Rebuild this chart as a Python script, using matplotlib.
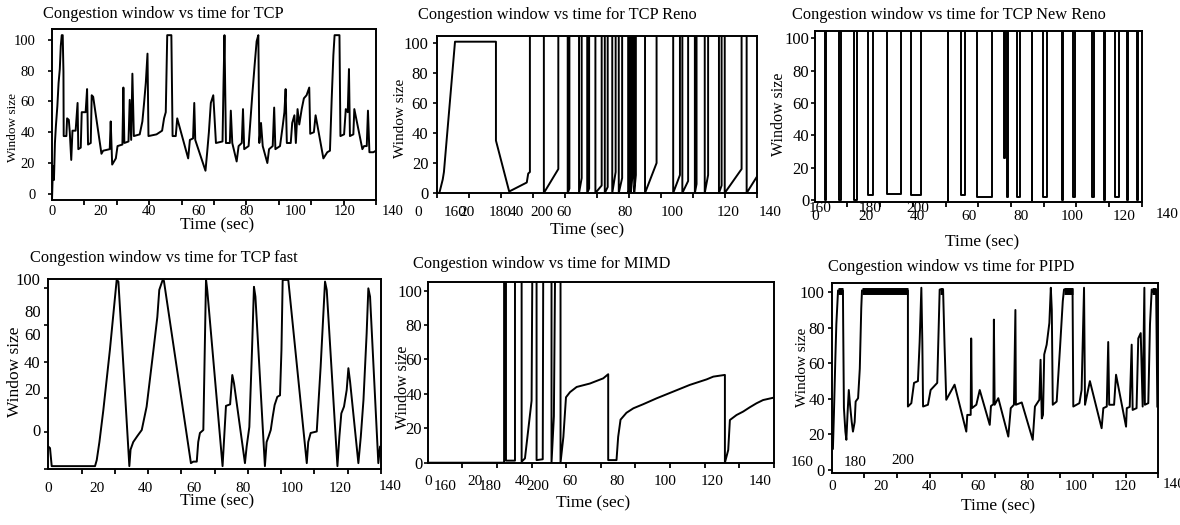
import numpy as np
import matplotlib
matplotlib.use("Agg")
import matplotlib.pyplot as plt

W, H = 1180, 525
plt.rcParams['font.family'] = ['Liberation Serif', 'DejaVu Serif']

# ---------------- data ----------------
# Panel 1: TCP
tcp_x = [0, 0.4, 0.8, 1.2, 1.6, 2.2, 2.7, 3.2, 3.6, 4.0,
         4.4, 4.7, 4.8, 5.9, 6.2, 6.9, 7.3, 7.9, 8.4, 9.7,
         10.3, 10.5, 10.8, 11.8, 12.2, 13.8, 14.4, 14.8, 15.9, 16.3,
         16.9, 20.3, 21.0, 23.7, 24.1, 24.7, 26.2, 26.9, 28.9, 29.3,
         29.7, 31.4, 31.9, 32.5, 33.0, 33.6, 36.0, 37.1, 37.8, 38.5,
         39.2, 39.6, 42.9, 45.2, 46.0, 46.7, 47.3, 49.0, 49.5, 50.8,
         51.4, 55.9, 56.6, 57.9, 58.4, 58.8, 63.0, 63.7, 64.4, 65.2,
         66.2, 66.9, 67.3, 70.0, 70.4, 70.8, 71.4, 73.0, 73.4, 74.0,
         75.8, 76.6, 77.9, 78.4, 78.9, 80.7, 82.2, 83.2, 84.0, 84.7,
         85.1, 85.8, 86.5, 88.4, 89.1, 90.6, 91.2, 91.7, 93.6, 94.7,
         95.4, 95.9, 96.4, 98.0, 98.6, 99.5, 100.1, 100.8, 101.5, 102.5,
         103.4, 104.5, 105.6, 106.0, 107.5, 108.2, 111.4, 113.0, 114.1, 114.8,
         115.5, 116.0, 118.0, 118.4, 119.9, 120.6, 121.4, 121.9, 122.3, 123.7,
         124.1, 127.4, 128.1, 129.2, 129.7, 130.3, 131.9, 133.0]
tcp_y = [-4, 18, 9, 33, 44, 57, 72, 81, 96, 103,
         103, 79, 37.5, 37.5, 49, 48, 40, 22, 41, 41,
         54, 59, 29, 30, 53, 53, 68, 32, 33, 64,
         63, 26, 28, 29, 47, 19, 23, 31, 32, 69,
         33, 34, 61, 35, 78, 37.5, 38.6, 47, 59, 72,
         91, 37.5, 38.6, 41, 49, 53, 103, 103, 37.5, 37.5,
         49, 23, 35, 36, 59, 35, 15, 27, 40, 59,
         64, 44, 33, 34, 71, 103, 33, 33, 54, 33,
         21, 31, 33, 55, 29, 31, 64, 84, 99, 103,
         33, 46, 31, 20, 29, 31, 56, 29, 31, 44,
         53, 68, 33, 33, 46, 51, 33, 55, 45, 55,
         62, 64, 69, 39, 40, 51, 23, 27, 28, 61,
         90, 103, 103, 37.5, 38.6, 55, 53, 81, 37.5, 38.6,
         55, 29, 31, 31, 54, 27, 27, 28]

# Panel 2: TCP Reno (values above 105 are off the top of the plot)
reno_head_x = [1.1, 2.5, 3.0, 7.6, 24.6, 24.6, 30.1, 37.4, 38.0, 38.7, 38.7]
reno_head_y = [0, 9, 14, 101, 101, 35, 1, 7, 13, 14, 110]
reno_drop_x = [44.5, 54.4, 59.1, 62.5, 65.9, 69.8, 72.9, 75.6, 79.5, 80.6,
               82.0, 86.5, 98.2, 102.0, 107.2, 111.3, 117.2, 119.6, 128.7]
reno_rise_x = [50.5, 55.1, 60.2, 63.3, 68.5, 71.0, 74.3, 77.0, 80.2, 81.2,
               82.7, 91.3, 101.0, 104.4, 107.9, 112.7, 118.3, 126.6, 133.0]
reno_rise_y = [16, 3, 10, 3, 5, 4, 14, 10, 3, 10,
               12, 20, 12, 8, 6, 12, 5, 16, 11]

# Panel 3: TCP New Reno
nreno_drop_x = [4.0, 9.6, 15.1, 20.6, 28.1, 37.5, 51.8, 56.9, 62.9, 73.7, 74.6,
                78.5, 84.3, 88.8, 96.0, 100.5, 107.7, 112.2, 116.7, 121.3, 125.2]
nreno_rise_x = [4.3, 10.2, 16.3, 22.8, 33.6, 41.4, 51.9, 58.2, 68.8, 73.9, 75.2,
                79.8, 84.5, 90.2, 96.6, 101.2, 108.3, 112.8, 118.0, 121.5, 125.4]
nreno_floor_y = [0, 0, 0, 3, 4, 3, 0, 3, 2, 26, 2,
                 2, 0, 2, 0, 2, 2, 0, 2, 0, 0]

# Panel 4: TCP fast
fast_x = [0, 0.7, 1.4, 19.2, 19.9, 21.0, 22.6, 25.3, 27.4, 28.1,
          28.8, 33.3, 33.8, 34.9, 36.6, 38.4, 40.4, 43.2, 44.8, 45.6,
          47.0, 47.5, 58.6, 59.6, 61.0, 61.6, 62.3, 63.7, 64.8, 65.3,
          71.6, 73.0, 74.7, 75.6, 76.3, 80.8, 81.5, 82.6, 83.7, 84.5,
          85.1, 89.0, 89.7, 90.5, 91.4, 92.2, 93.0, 94.1, 95.2, 95.8,
          96.3, 98.6, 106.2, 106.8, 107.8, 110.3, 111.9, 113.7, 114.4, 118.8,
          119.6, 120.4, 121.5, 122.6, 123.3, 124.0, 127.4, 128.4, 129.5, 130.8,
          131.5, 132.2, 135.6, 136.3, 136.7]
fast_y = [-11, -12, -24, -24, -20, -8, 13, 53, 88, 99.6,
          98.5, -24, -13, -8, -4, 0, 15.5, 53, 75, 93,
          99.6, 99, -22, -21, -21, -8, -2, 0, 100, 93,
          -24, 16, 17, 36.5, 31, -22, -11, 2, 53, 95,
          88.5, -24, -8, -4.4, 0, 8.8, 16.6, 22, 23, 53,
          99.6, 99.6, -22, -8, -2, -1, 42, 98.5, 93, -24,
          -4.4, 11, 15.5, 26.5, 41, 32, -22, -4.4, 20, 64,
          94, 88.5, -22, -11, -11]

# Panel 5: MIMD
mimd_x = [0, 32.2, 32.2, 33.0, 33.0, 36.8, 36.8, 39.6, 39.6, 41.0,
          43.8, 44.1, 45.9, 45.9, 48.5, 48.7, 52.2, 52.2, 53.2, 53.7,
          56.0, 56.0, 57.2, 58.3, 60.0, 62.8, 65.6, 68.4, 71.2, 74.0,
          76.1, 76.1, 79.6, 80.3, 81.3, 83.8, 86.7, 90.9, 96.5, 103.5,
          110.5, 117.6, 120.4, 125.3, 125.3, 126.7, 127.4, 130.2, 133.0, 135.8,
          138.6, 141.4, 145.9]
mimd_y = [0, 0, 110, 110, 1.2, 1.2, 110, 110, 0.6, 2.5,
          36, 110, 110, 1.5, 2, 110, 110, 0, 27, 110,
          110, 0, 15, 38, 41, 44, 45, 46, 47.5, 49,
          51.4, 1.5, 1.5, 15, 25, 29, 31.6, 34, 37.4, 41.3,
          45.2, 48.4, 50, 51, 0, 7.4, 24.8, 27.7, 29.7, 32.2,
          34.5, 36.4, 37.8]

# Panel 6: PIPD
pipd_x = [0.5, 0.9, 1.5, 1.9, 2.6, 4.6, 4.7, 5.0, 5.6, 6.0,
          6.5, 7.0, 7.5, 8.2, 8.7, 9.4, 9.8, 10.8, 11.5, 12.1,
          12.4, 31.2, 31.2, 32.6, 33.7, 35.3, 36.0, 36.7, 37.1, 37.4,
          39.4, 40.5, 43.2, 44.2, 45.6, 46.2, 46.9, 48.3, 50.3, 55.1,
          55.5, 56.9, 57.1, 57.4, 59.2, 60.6, 64.7, 65.2, 66.2, 66.4,
          66.7, 68.2, 72.3, 73.3, 74.6, 75.2, 75.4, 77.8, 82.3, 83.2,
          85.0, 85.5, 86.0, 86.5, 87.0, 88.0, 89.1, 89.7, 90.1, 90.5,
          92.1, 93.5, 94.6, 95.1, 98.6, 98.9, 101.4, 102.3, 103.3, 103.7,
          105.7, 110.5, 111.2, 112.6, 113.2, 113.6, 115.6, 116.4, 120.5, 120.8,
          122.0, 122.8, 123.2, 124.8, 125.5, 126.5, 127.3, 128.0, 128.2, 129.6,
          130.3, 131.0, 131.9, 132.8, 133.0, 133.3]
pipd_y = [12, 31, 63, 82, 101, 101, 82, 35, 21.6, 17,
          32, 45, 36.7, 27, 21.6, 27, 38.5, 40.4, 57, 91,
          101, 101, 35.7, 37.6, 49, 50, 72, 102.5, 72, 35.7,
          36.7, 45, 49, 101.5, 101.5, 70, 39.5, 43, 48, 21.6,
          31, 31, 74, 34.8, 36.7, 45, 25.4, 36, 37, 84.6,
          36.7, 40.4, 18.8, 34.8, 36.7, 90, 36.7, 38, 17, 35.7,
          39.5, 62, 29, 31, 65, 70.5, 82.7, 102.5, 90, 36.7,
          38.5, 69.5, 95, 101.5, 101.5, 35.7, 37.6, 45, 102.5, 36.7,
          50, 23.5, 34.8, 35.7, 72, 36.7, 36.7, 53.6, 24.4, 34.8,
          35.5, 70.5, 33.8, 34.8, 74, 77, 35.7, 102.5, 36.7, 37.6,
          82, 101.5, 99.6, 101.5, 77, 35.7]
pipd_band_x0 = [2.6, 12.4, 44.2, 95.1, 131.0]
pipd_band_x1 = [4.6, 31.2, 45.6, 98.6, 132.8]
pipd_band_y = [100.5, 100.5, 100.5, 100.5, 100.5]

titles = ["Congestion window vs time for TCP",
          "Congestion window vs time for TCP Reno",
          "Congestion window vs time for TCP New Reno",
          "Congestion window vs time for TCP fast",
          "Congestion window vs time for MIMD",
          "Congestion window vs time for PIPD"]
y_ticks = [0, 20, 40, 60, 80, 100]
x_ticks = [0, 20, 40, 60, 80, 100, 120]

# ------------- build step series for Reno / New Reno -------------
TOP = 110
reno_x = list(reno_head_x)
reno_y = list(reno_head_y)
n = len(reno_drop_x)
for i, (d, r, p) in enumerate(zip(reno_drop_x, reno_rise_x, reno_rise_y)):
    reno_x += [d, d, r]
    reno_y += [TOP, 0, p]
    if i < n - 1:
        reno_x.append(r)
        reno_y.append(TOP)

nr_x = [0]
nr_y = [TOP]
for d, r, f in zip(nreno_drop_x, nreno_rise_x, nreno_floor_y):
    nr_x += [d, d, r, r]
    nr_y += [TOP, f, f, TOP]
nr_x.append(127)
nr_y.append(TOP)

# ---------------- figure ----------------
fig = plt.figure(figsize=(W / 100, H / 100), dpi=100)


def box(l, t, r, b):
    return [l / W, 1 - b / H, (r - l) / W, (b - t) / H]


def ptext(px, py, s, **kw):
    kw.setdefault('fontsize', 11)
    kw.setdefault('ha', 'center')
    kw.setdefault('va', 'center')
    fig.text(px / W, 1 - py / H, s, **kw)


LW = 1.4
SP = 1.4


def setup(ax, xlim, ylim, xmaj, xlab, xpad, ypad, ymaj=y_ticks, ylab=None,
          yminor=None, xfs=11, yfs=12):
    ax.set_xlim(*xlim)
    ax.set_ylim(*ylim)
    ax.set_xticks(np.linspace(xlim[0], xlim[1], 11), minor=True)
    ax.set_xticks(xmaj, [str(v) for v in xlab])
    ax.tick_params(axis='x', which='major', length=0, pad=xpad,
                   labelsize=xfs)
    ax.tick_params(axis='x', which='minor', length=3.5, width=1.3,
                   direction='out')
    if ylab is None:
        ylab = ymaj
    ax.set_yticks(ymaj, [str(v) for v in ylab])
    if yminor is None:
        ax.tick_params(axis='y', which='major', length=3, width=1.2,
                       pad=ypad, labelsize=yfs)
    else:
        ax.set_yticks(yminor, minor=True)
        ax.tick_params(axis='y', which='major', length=0, pad=ypad,
                       labelsize=yfs)
        ax.tick_params(axis='y', which='minor', length=3, width=1.2)
    for s in ax.spines.values():
        s.set_linewidth(SP)


# Panel 1
ax1 = fig.add_axes(box(52, 29, 376, 200))
ax1.plot(tcp_x, tcp_y, color='black', lw=LW)
setup(ax1, (0, 133), (-4, 107), x_ticks, x_ticks, 3.5, 9, xfs=10.5, yfs=10.5)

# Panel 2
ax2 = fig.add_axes(box(436.7, 35.7, 757, 193))
ax2.plot(reno_x, reno_y, color='black', lw=LW)
setup(ax2, (0, 133), (0, 105), [12.6, 32.9, 52.8, 78.3, 97.8, 121.1],
      [20, 40, 60, 80, 100, 120], 9.5, 3)

# Panel 3
ax3 = fig.add_axes(box(814.7, 30.7, 1141.7, 201.7))
ax3.plot(nr_x, nr_y, color='black', lw=LW)
setup(ax3, (0, 127), (-1, 104.6), x_ticks, x_ticks, 6, 1)

# Panel 4
ax4 = fig.add_axes(box(48.3, 279.3, 381, 469))
ax4.plot(fast_x, fast_y, color='black', lw=LW)
setup(ax4, (0, 136.7), (-25.9, 100), x_ticks, x_ticks, 9.5, 5.5,
      ymaj=[0, 27, 45, 64, 79, 100], ylab=y_ticks,
      yminor=[-25.9, -1.5, 21, 45.4, 69.7, 94])

# Panel 5
ax5 = fig.add_axes(box(427.7, 282.3, 774, 462.7))
ax5.plot(mimd_x, mimd_y, color='black', lw=LW)
setup(ax5, (0, 146), (0, 104.8), x_ticks + [140], x_ticks + [140], 9, 1)

# Panel 6
ax6 = fig.add_axes(box(831.7, 283.3, 1158.3, 472.7))
ax6.plot(pipd_x, pipd_y, color='black', lw=LW)
ax6.hlines(pipd_band_y, pipd_band_x0, pipd_band_x1, color='black', lw=5)
setup(ax6, (0, 133.7), (-1.5, 105), x_ticks, x_ticks, 5, 2)

# Titles
TFS = 11.8
ptext(43, 14, titles[0], ha='left', fontsize=TFS)
ptext(418, 15, titles[1], ha='left', fontsize=TFS)
ptext(792, 15, titles[2], ha='left', fontsize=TFS)
ptext(30, 258, titles[3], ha='left', fontsize=TFS)
ptext(413, 264, titles[4], ha='left', fontsize=TFS)
ptext(828, 267, titles[5], ha='left', fontsize=TFS)

# Axis labels
XFS = 12.5
for (px, py) in [(217, 225), (587, 230), (982, 242), (217, 501),
                 (593, 503), (998, 506)]:
    ptext(px, py, "Time (sec)", fontsize=XFS)
for (px, py, fs) in [(13, 128, 9.5), (400, 118, 11), (779, 114, 11.5),
                     (15, 372, 12.5), (403, 387, 11.5), (802, 367, 11)]:
    ptext(px, py, "Window size", fontsize=fs, rotation=90)

# Extra tick labels lying outside the axes / overlapping layers
ptext(393, 211, "140", fontsize=10.5)   # panel 1
ptext(418, 212, "0")                    # panel 2
ptext(455, 212, "160")
ptext(500, 212, "180")
ptext(542, 212, "200")
ptext(770, 212, "140")
ptext(820, 209, "160")                  # panel 3
ptext(870, 209, "180")
ptext(918, 209, "200")
ptext(1167, 215, "140")
ptext(390, 487, "140")                  # panel 4
ptext(445, 486, "160")                  # panel 5
ptext(490, 486, "180")
ptext(538, 486, "200")
ptext(802, 463, "160")                  # panel 6
ptext(855, 463, "180")
ptext(903, 461, "200")
ptext(1174, 485, "140")

fig.savefig("out.png", dpi=100, facecolor='white')
